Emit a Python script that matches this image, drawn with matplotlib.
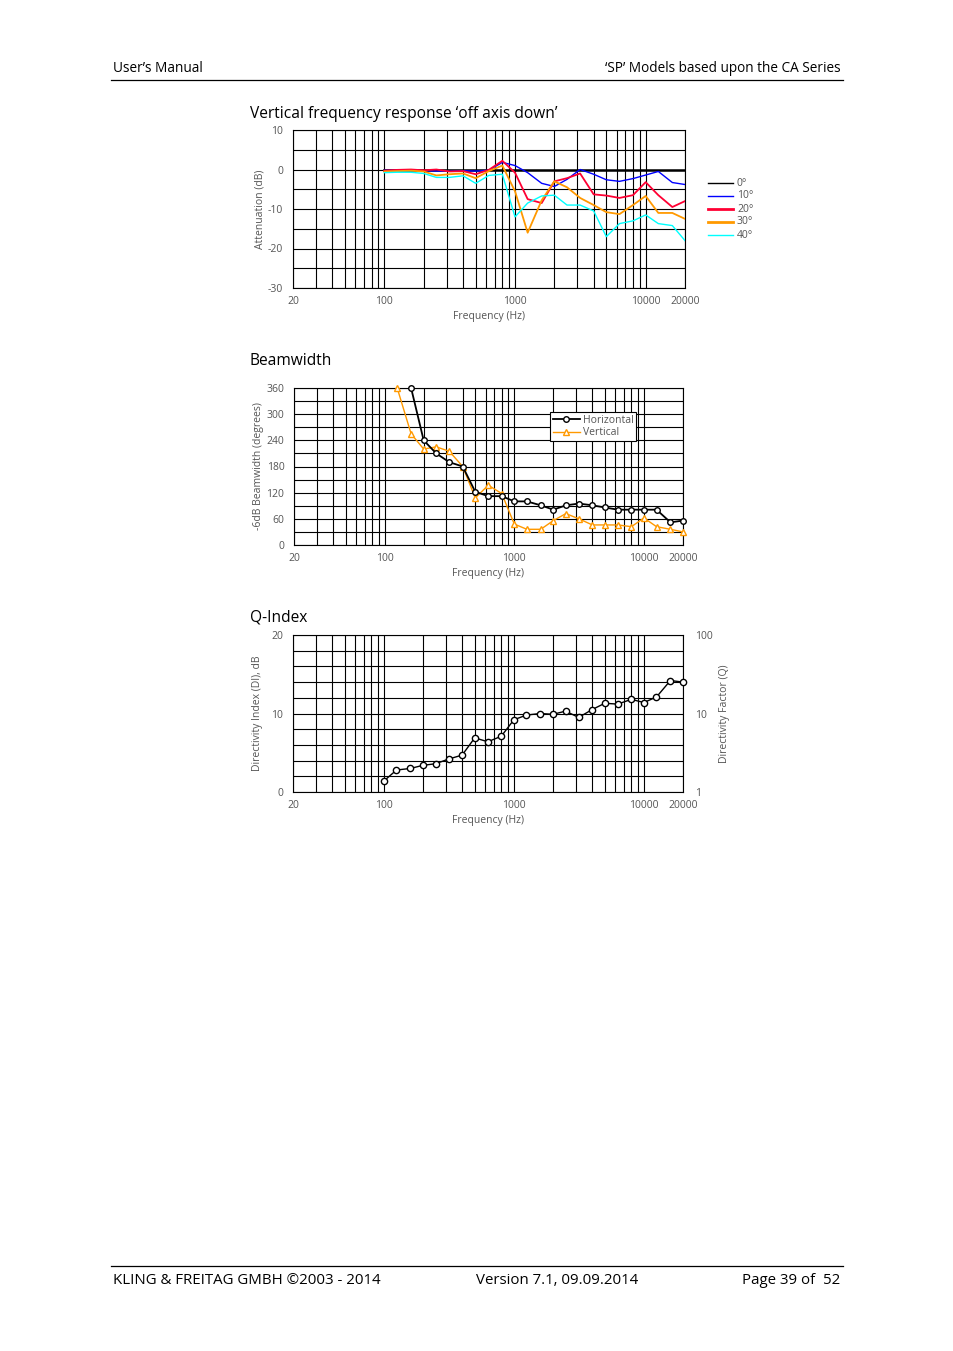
import numpy as np
import matplotlib
matplotlib.use("Agg")
import matplotlib.pyplot as plt
from matplotlib.lines import Line2D

plt.rcParams["axes.unicode_minus"] = False

# third-octave centre frequencies used by all three charts
freqs = [100, 125, 160, 200, 250, 315, 400, 500, 630, 800, 1000, 1250,
         1600, 2000, 2500, 3150, 4000, 5000, 6300, 8000, 10000, 12500,
         16000, 20000]

# vertical off-axis response (dB)
resp_0 = [0] * 24
resp_10 = [-0.2, -0.2, -0.2, -0.3, -0.4, -0.4, -0.3, -0.4, -0.2, 1.8, 1.0, -0.8,
           -3.5, -4.3, -2.5, 0.0, -1.2, -2.6, -3.0, -2.3, -1.4, -0.5, -3.3, -3.8]
resp_20 = [-0.3, -0.1, 0.0, -0.2, 0.0, -0.5, -0.4, -1.2, -0.1, 2.2, -0.8, -7.5,
           -8.5, -3.0, -2.2, -1.0, -6.3, -6.6, -7.2, -6.5, -3.2, -6.5, -9.5, -8.0]
resp_30 = [-0.5, -0.4, -0.3, -0.5, -1.5, -1.2, -1.0, -2.2, -0.4, 1.0, -5.5, -16.0,
           -7.8, -3.0, -4.5, -7.2, -9.0, -10.8, -11.3, -9.0, -6.7, -11.0, -11.0, -12.5]
resp_40 = [-0.8, -0.7, -0.7, -1.0, -2.0, -2.0, -1.6, -3.5, -1.5, -1.2, -12.0, -8.5,
           -6.7, -6.5, -9.0, -9.0, -10.5, -17.0, -13.7, -13.0, -11.5, -13.7, -14.2, -18.0]
resp_labels = ["0°", "10°", "20°", "30°", "40°"]

# -6 dB beamwidth (degrees)
bw_h_freqs = freqs[2:]
bw_h = [360, 240, 210, 190, 180, 122, 112, 112, 100, 100, 91, 81, 91, 95, 91,
        86, 81, 81, 81, 81, 52, 56]
bw_v_freqs = freqs[1:]
bw_v = [360, 255, 220, 225, 215, 180, 108, 137, 118, 48, 36, 36, 56, 72, 60,
        46, 46, 46, 42, 62, 42, 36, 30]

# directivity index (dB)
di = [1.4, 2.8, 3.0, 3.4, 3.6, 4.2, 4.7, 6.9, 6.4, 7.1, 9.2, 9.8, 10.0, 9.9,
      10.3, 9.5, 10.5, 11.3, 11.2, 11.8, 11.4, 12.1, 14.2, 14.0]

W, H = 954, 1351
fig = plt.figure(figsize=(W / 100, H / 100), dpi=100)
fig.patch.set_facecolor("white")

FONT = ["Open Sans", "DejaVu Sans"]
GREY = "#555555"


def px(x, y):
    return x / W, 1 - y / H


def make_axes(left, top, right, bottom):
    return fig.add_axes([left / W, 1 - bottom / H, (right - left) / W, (bottom - top) / H])


grid_freqs = [f * m for m in (10, 100, 1000) for f in range(2, 10)] + [10000, 20000]
grid_freqs = [f for f in grid_freqs if 20 <= f <= 20000]


def style_log_x(ax):
    ax.set_xscale("log")
    ax.set_xlim(20, 20000)
    ax.set_xticks([20, 100, 1000, 10000, 20000])
    ax.set_xticklabels(["20", "100", "1000", "10000", "20000"])
    ax.set_xticks(grid_freqs, minor=True)
    ax.xaxis.set_minor_formatter(plt.NullFormatter())
    ax.grid(True, which="both", axis="x", color="black", lw=0.8)
    ax.grid(True, which="both", axis="y", color="black", lw=0.8)
    ax.tick_params(which="both", length=0, labelsize=7.5, labelcolor=GREY)
    ax.tick_params(axis="x", pad=6)
    ax.tick_params(axis="y", pad=7)
    for lab in ax.get_xticklabels() + ax.get_yticklabels():
        lab.set_family(FONT)
    for s in ax.spines.values():
        s.set_color("black")
        s.set_linewidth(0.8)
    ax.set_axisbelow(True)
    ax.set_xlabel("Frequency (Hz)", fontsize=7.5, color=GREY, family=FONT, labelpad=2.5)


# header / footer
fig.text(*px(113, 69), "User’s Manual", fontsize=9.8, family=FONT, va="center", ha="left")
fig.text(*px(841, 69), "‘SP’ Models based upon the CA Series", fontsize=9.8, family=FONT,
         va="center", ha="right")
fig.add_artist(Line2D([111 / W, 843 / W], [1 - 80 / H, 1 - 80 / H], color="black", lw=0.9))
fig.add_artist(Line2D([111 / W, 843 / W], [1 - 1266 / H, 1 - 1266 / H], color="black", lw=0.9))
fig.text(*px(113, 1280), "KLING & FREITAG GMBH ©2003 - 2014", fontsize=10.8, family=FONT,
         va="center", ha="left")
fig.text(*px(557, 1280), "Version 7.1, 09.09.2014", fontsize=10.8, family=FONT,
         va="center", ha="center")
fig.text(*px(840, 1280), "Page 39 of  52", fontsize=10.8, family=FONT, va="center", ha="right")

# chart 1: vertical frequency response
fig.text(*px(250, 114), "Vertical frequency response ‘off axis down’", fontsize=11.2,
         family=FONT, va="center", ha="left")
ax1 = make_axes(293, 130, 685, 288)
resp_series = [resp_0, resp_10, resp_20, resp_30, resp_40]
resp_colors = ["black", "#0000ff", "#ff0033", "#ff9900", "#00ffff"]
resp_widths = [1.8, 1.0, 1.3, 1.3, 1.0]
for vals, c, w in zip(resp_series, resp_colors, resp_widths):
    ax1.plot(freqs, vals, color=c, lw=w, zorder=3)
ax1.set_ylim(-30, 10)
ax1.set_yticks([-30, -20, -10, 0, 10])
ax1.set_yticks(np.arange(-30, 11, 5), minor=True)
style_log_x(ax1)
ax1.set_ylabel("Attenuation (dB)", fontsize=7.5, color=GREY, family=FONT, labelpad=2)
leg_w = [1.0, 1.0, 2.0, 2.0, 1.0]
for i, (lab, c) in enumerate(zip(resp_labels, resp_colors)):
    y = 1 - (183 + 13 * i) / H
    fig.add_artist(Line2D([708 / W, 733 / W], [y, y], color=c, lw=leg_w[i]))
    fig.text(737 / W, y, lab, fontsize=7.5, color=GREY, family=FONT, va="center", ha="left")

# chart 2: beamwidth
fig.text(*px(250, 361), "Beamwidth", fontsize=11.2, family=FONT, va="center", ha="left")
ax2 = make_axes(294, 388, 683, 545)
ax2.plot(bw_h_freqs, bw_h, color="black", lw=1.3, marker="o", ms=4,
         mfc="white", mec="black", mew=1.0, label="Horizontal", zorder=4, clip_on=False)
ax2.plot(bw_v_freqs, bw_v, color="#ff9900", lw=1.0, marker="^", ms=5,
         mfc="white", mec="#ff9900", mew=1.0, label="Vertical", zorder=3, clip_on=False)
ax2.set_ylim(0, 360)
ax2.set_yticks(np.arange(0, 361, 60))
ax2.set_yticks(np.arange(0, 361, 30), minor=True)
style_log_x(ax2)
ax2.set_ylabel("-6dB Beamwidth (degrees)", fontsize=7.5, color=GREY, family=FONT, labelpad=2)
leg = ax2.legend(loc="upper left", bbox_to_anchor=px(550, 412), bbox_transform=fig.transFigure,
                 frameon=True, fancybox=False, edgecolor="black", framealpha=1,
                 handlelength=2.6, handletextpad=0.3, borderpad=0.25, labelspacing=0.15,
                 borderaxespad=0, prop={"family": FONT, "size": 7.5})
leg.get_frame().set_linewidth(0.8)
for t in leg.get_texts():
    t.set_color(GREY)

# chart 3: Q-index
fig.text(*px(250, 618), "Q-Index", fontsize=11.2, family=FONT, va="center", ha="left")
ax3 = make_axes(293, 635, 683, 792)
ax3.plot(freqs, di, color="black", lw=1.0, marker="o", ms=4.5,
         mfc="white", mec="black", mew=1.0, zorder=4, clip_on=False)
ax3.set_ylim(0, 20)
ax3.set_yticks([0, 10, 20])
ax3.set_yticks(np.arange(0, 21, 2), minor=True)
style_log_x(ax3)
ax3.set_ylabel("Directivity Index (DI), dB", fontsize=7.5, color=GREY, family=FONT, labelpad=6)
ax3r = ax3.twinx()
ax3r.set_yscale("log")
ax3r.set_ylim(1, 100)
ax3r.set_yticks([1, 10, 100])
ax3r.set_yticklabels(["1", "10", "100"])
ax3r.yaxis.set_minor_locator(plt.NullLocator())
ax3r.tick_params(length=0, labelsize=7.5, labelcolor=GREY, pad=9)
for lab in ax3r.get_yticklabels():
    lab.set_family(FONT)
for s in ax3r.spines.values():
    s.set_visible(False)
ax3r.set_ylabel("Directivity Factor (Q)", fontsize=7.5, color=GREY, family=FONT, labelpad=4)

fig.savefig("out.png", dpi=100)
